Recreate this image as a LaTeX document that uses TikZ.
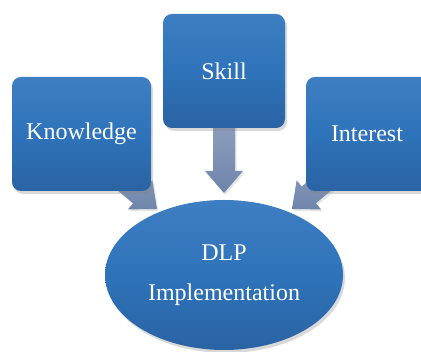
\documentclass[tikz,border=0pt]{standalone}
\usepackage{fontspec}
\setmainfont{Liberation Serif}
\newfontfamily\tnr{Liberation Serif}
\usetikzlibrary{shapes.geometric,shadows}
\definecolor{boxtop}{HTML}{3E7EC2}
\definecolor{boxmid}{HTML}{2E73BA}
\definecolor{boxbot}{HTML}{2A63A3}
\definecolor{arrtop}{HTML}{92A3C2}
\definecolor{arrbot}{HTML}{6E84AA}
\tikzset{
  labelfont/.style={font=\tnr\fontsize{24}{40}\selectfont},
  bluebox/.style={rectangle, rounded corners=9pt, draw=none,
    top color=boxtop, bottom color=boxbot, middle color=boxmid,
    text=white, labelfont, inner sep=0pt,
    drop shadow={opacity=0.3, shadow xshift=2pt, shadow yshift=-3pt}},
  blockarrow/.style={draw=none, top color=arrtop, bottom color=arrbot,
    drop shadow={opacity=0.2, shadow xshift=1.5pt, shadow yshift=-2pt}},
}
\begin{document}
\begin{tikzpicture}[x=1pt,y=1pt]
\useasboundingbox (0,0) rectangle (421,352);
\clip (0,0) rectangle (421,352);
% arrows (drawn behind boxes)
\coordinate (tipS) at (224,159);
\coordinate (tipK) at (157,143);
\coordinate (tipI) at (292,143);
\begin{scope}[shift={(tipS)}, rotate=-90]
  \path[blockarrow] (0,0) -- (-22,19) -- (-22,11) -- (-80,11) -- (-80,-11) -- (-22,-11) -- (-22,-19) -- cycle;
\end{scope}
\begin{scope}[shift={(tipK)}, rotate=-40]
  \path[blockarrow] (0,0) -- (-22,19) -- (-22,11) -- (-70,11) -- (-70,-11) -- (-22,-11) -- (-22,-19) -- cycle;
\end{scope}
\begin{scope}[shift={(tipI)}, rotate=-140]
  \path[blockarrow] (0,0) -- (-22,19) -- (-22,11) -- (-70,11) -- (-70,-11) -- (-22,-11) -- (-22,-19) -- cycle;
\end{scope}
% boxes
\node[bluebox, minimum width=139pt, minimum height=114pt] (know) at (81.5,218) {Knowledge};
\node[bluebox, minimum width=122pt, minimum height=114pt] (skill) at (224,281) {Skill};
\node[bluebox, minimum width=130pt, minimum height=114pt, text width=130pt, align=left] (inter) at (371,218) {\hspace{25pt}Interest};
% ellipse
\node[ellipse, draw=none, top color=boxtop, bottom color=boxbot, middle color=boxmid,
  minimum width=238pt, minimum height=150pt, inner sep=0pt, text=white,
  align=center, labelfont,
  drop shadow={opacity=0.3, shadow xshift=2pt, shadow yshift=-3pt}] (dlp) at (224,77) {DLP\\Implementation};
\end{tikzpicture}
\end{document}
